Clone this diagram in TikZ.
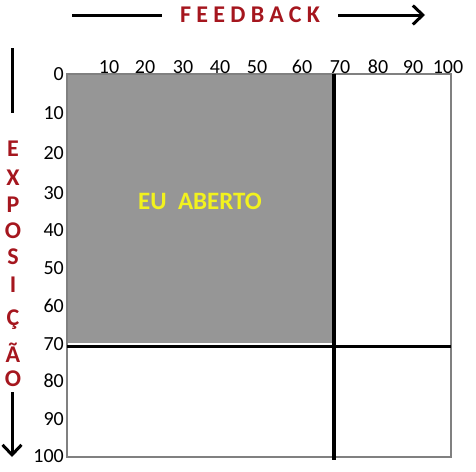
\documentclass[tikz,border=0pt]{standalone}
\usepackage{fontspec}
\setmainfont{Carlito}
\usepackage{xcolor}
\usetikzlibrary{arrows.meta, positioning}
\definecolor{fbred}{RGB}{165,22,30}
\definecolor{openyellow}{RGB}{242,242,30}
\definecolor{quadgray}{RGB}{150,150,150}
\definecolor{framegray}{RGB}{128,128,128}
\tikzset{
  scalelabel/.style={font=\fontsize{20}{21}\selectfont, inner sep=0pt},
  axistitle/.style={font=\fontsize{24}{25}\selectfont\bfseries, text=fbred, inner sep=0pt},
  bigarrow/.style={line width=3pt}
}

\begin{document}
\begin{tikzpicture}[x=1pt, y=-1pt, >={Straight Barb[length=10pt,width=19pt]}]
\useasboundingbox (0,0) rectangle (476,471);
% the open quadrant and the frame
\fill[quadgray] (67,74) rectangle (333,343);
\draw[framegray, line width=1.5pt] (67,74) rectangle (451,457);
\draw[line width=3.5pt] (334,74) -- (334,460);
\draw[line width=3pt] (67,346) -- (451,346);
\node[font=\fontsize{25}{26}\selectfont\bfseries, text=openyellow, inner sep=0pt] (open) at (200,201) {EU\ \ ABERTO};
% scales
\foreach \v/\x in {10/109,20/145,30/183,40/220,50/257,60/302,70/340,80/378,90/413,100/448}
  \node[scalelabel] (tx\v) at (\x,67) {\v};
\foreach \v/\y in {0/74,10/113,20/153,30/193,40/230,50/268,60/306,70/344,80/381,90/419,100/456}
  \node[scalelabel, anchor=east] (ty\v) at (64,\y) {\v};
% feedback axis
\node[axistitle, inner xsep=18pt, font=\fontsize{24}{25}\selectfont\bfseries\addfontfeature{LetterSpace=22}] (feedback) at (250,15) {FEEDBACK};
\coordinate (fbleft) at (72,15);
\coordinate (fbright) at (425,15);
\draw[bigarrow] (fbleft) -- (feedback);
\draw[bigarrow, ->] (feedback) -- (fbright);
% exposicao axis
\foreach \c/\y [count=\i] in {E/149,X/178,P/205,O/231,S/257,I/285,Ç/320,Ã/353,O/379}
  \node[axistitle] (ex\i) at (13,\y) {\c};
\coordinate (extop) at (12,48);
\coordinate (exmid) at (12,113);
\coordinate (exlow) at (12,392);
\coordinate (exbot) at (12,457);
\draw[bigarrow] (extop) -- (exmid);
\draw[bigarrow, ->] (exlow) -- (exbot);
\end{tikzpicture}
\end{document}
